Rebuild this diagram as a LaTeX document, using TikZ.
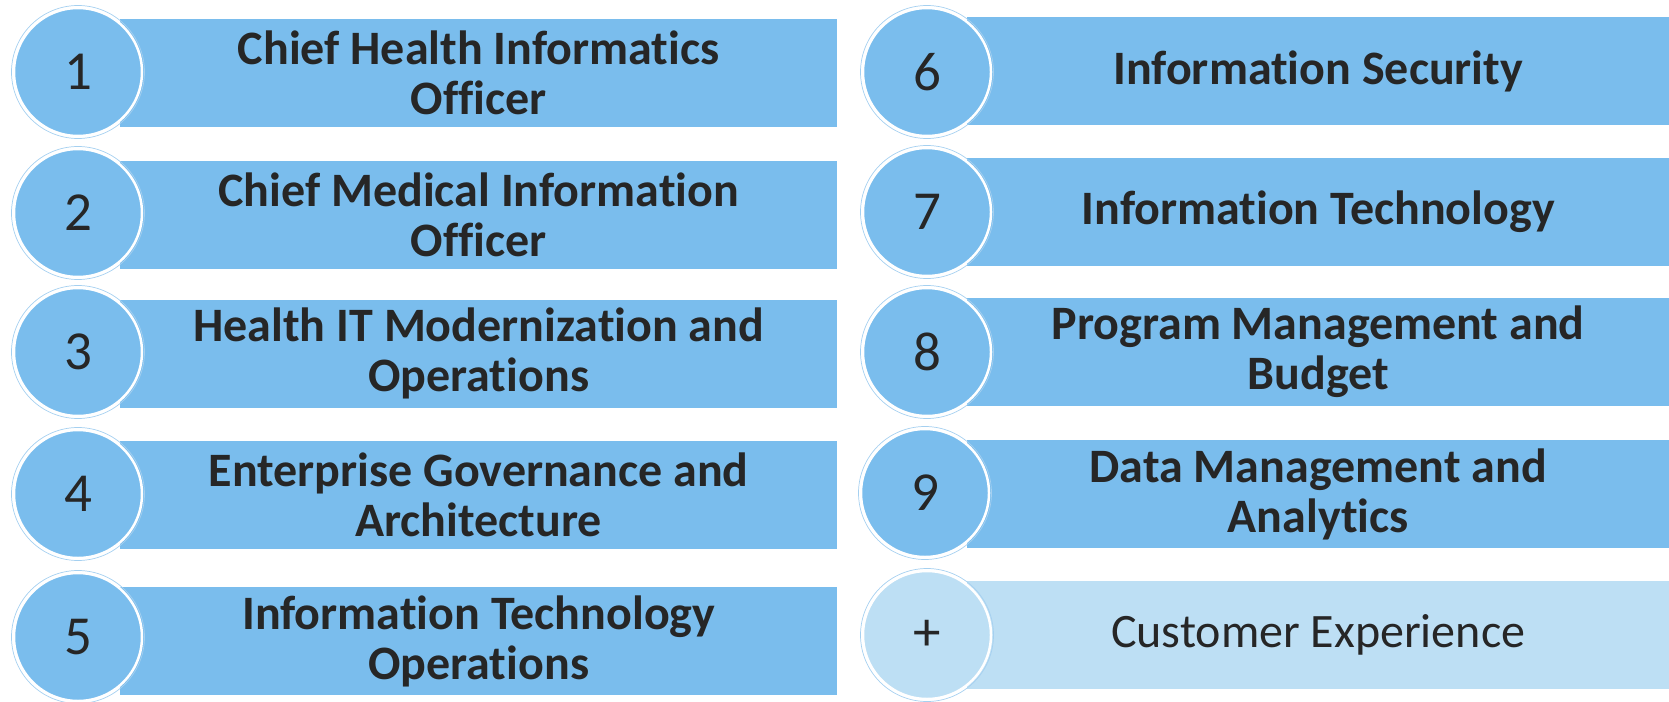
\documentclass[tikz,border=0pt]{standalone}
\usepackage{fontspec}
\setmainfont{Carlito}[Ligatures={NoCommon,NoRequired,NoContextual}]
\usetikzlibrary{positioning}
\definecolor{barblue}{RGB}{122,189,237}
\definecolor{barpale}{RGB}{189,223,244}
\definecolor{inkgray}{RGB}{38,38,38}
\definecolor{glowblue}{RGB}{165,208,240}
\newcommand{\leftwide}{717pt}
\newcommand{\rightwide}{702pt}

\begin{document}
\begin{tikzpicture}[x=1pt,y=-1pt,
    bubble/.style={circle, fill=barblue, draw=white, line width=2.5pt, minimum size=128pt,
        inner sep=0pt, text=inkgray, font=\fontsize{55}{60}\selectfont},
    band/.style={rectangle, fill=barblue, anchor=west, minimum height=108pt, inner sep=0pt,
        align=center, text=inkgray, font=\fontsize{48}{50}\selectfont\bfseries},
    glow/.style={draw=glowblue, line width=0.7pt}]
    \useasboundingbox (0,0) rectangle (1669,701);
    % left column
    \node[band, minimum width=\leftwide] (b1) at (120,73) {Chief Health Informatics\\Officer};
    \node[band, minimum width=\leftwide] (b2) at (120,214.5) {Chief Medical Information\\Officer};
    \node[band, minimum width=\leftwide] (b3) at (120,353.5) {Health IT Modernization and\\Operations};
    \node[band, minimum width=\leftwide] (b4) at (120,494.5) {Enterprise Governance and\\Architecture};
    \node[band, minimum width=\leftwide] (b5) at (120,641) {Information Technology\\Operations};
    \draw[glow] (78,72) circle (66.5);
    \draw[glow] (78,213) circle (66.5);
    \draw[glow] (78,352) circle (66.5);
    \draw[glow] (78,494) circle (66.5);
    \draw[glow] (78,637) circle (66.5);
    \node[bubble] (n1) at (78,72) {1};
    \node[bubble] (n2) at (78,213) {2};
    \node[bubble] (n3) at (78,352) {3};
    \node[bubble] (n4) at (78,494) {4};
    \node[bubble] (n5) at (78,637) {5};
    % right column
    \node[band, minimum width=\rightwide] (b6) at (967,71) {Information Security};
    \node[band, minimum width=\rightwide] (b7) at (967,212) {Information Technology};
    \node[band, minimum width=\rightwide] (b8) at (967,352) {Program Management and\\Budget};
    \node[band, minimum width=\rightwide] (b9) at (967,494) {Data Management and\\Analytics};
    \node[band, minimum width=\rightwide, fill=barpale, font=\fontsize{48}{54}\selectfont] (bcx) at (967,635) {Customer Experience};
    \draw[glow] (927,72) circle (66.5);
    \draw[glow] (927,212) circle (66.5);
    \draw[glow] (927,352) circle (66.5);
    \draw[glow] (925,493) circle (66.5);
    \draw[glow] (927,635) circle (66.5);
    \node[bubble] (n6) at (927,72) {6};
    \node[bubble] (n7) at (927,212) {7};
    \node[bubble] (n8) at (927,352) {8};
    \node[bubble] (n9) at (925,493) {9};
    \node[bubble, fill=barpale] (ncx) at (927,635) {+};
\end{tikzpicture}
\end{document}
